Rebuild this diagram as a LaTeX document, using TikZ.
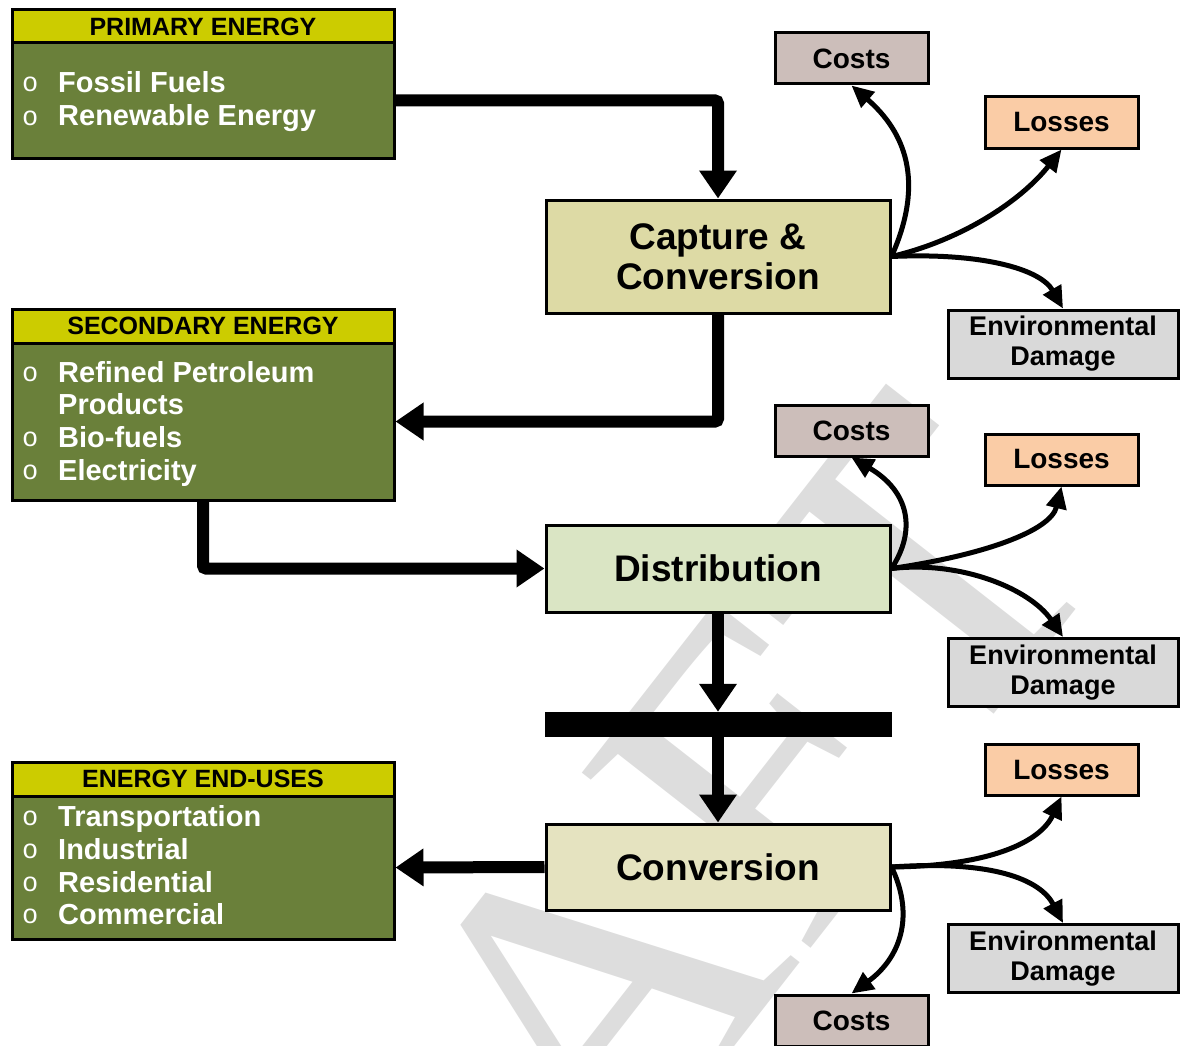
\documentclass[tikz,border=0pt]{standalone}
\usepackage{fontspec}
\setmainfont{Liberation Sans}
\newfontfamily\monofnt{Liberation Mono}
\newfontfamily\seriffnt{Liberation Serif}
\usetikzlibrary{arrows.meta}
\definecolor{hdrY}{RGB}{204,204,0}
\definecolor{oliveB}{RGB}{106,128,58}
\definecolor{capF}{RGB}{221,218,165}
\definecolor{distF}{RGB}{218,229,196}
\definecolor{convF}{RGB}{229,227,192}
\definecolor{costF}{RGB}{204,190,186}
\definecolor{lossF}{RGB}{250,204,166}
\definecolor{envF}{RGB}{217,217,217}
\definecolor{wmG}{RGB}{221,221,221}
\newcommand\mybul{\makebox[36pt][l]{\raisebox{1pt}{\monofnt\mdseries\fontsize{27}{27}\selectfont o}}}
\begin{document}
\begin{tikzpicture}[x=1pt,y=-1pt,
  hdr/.style={draw=black, line width=3pt, fill=hdrY, minimum width=382pt, inner sep=0pt,
    font=\fontsize{25}{30}\selectfont\bfseries},
  bodybox/.style={draw=black, line width=3pt, fill=oliveB, minimum width=382pt, inner sep=0pt},
  item/.style={anchor=base west, inner sep=0pt, text=white, font=\fontsize{29}{33}\selectfont\bfseries},
  proc/.style={draw=black, line width=3pt, minimum width=344pt, inner sep=0pt, align=center,
    font=\fontsize{37}{40}\selectfont\bfseries},
  side/.style={draw=black, line width=3pt, minimum width=153pt, minimum height=51pt, inner sep=0pt,
    font=\fontsize{28}{30}\selectfont\bfseries},
  envbox/.style={draw=black, line width=3pt, fill=envF, minimum width=230pt, minimum height=68pt,
    inner sep=0pt, align=center, font=\fontsize{27}{30}\selectfont\bfseries},
  flow/.style={line width=12pt, -{Triangle[length=28pt,width=36pt]}, rounded corners=3pt},
  branch/.style={line width=5pt, -{Triangle[length=22pt,width=20pt]}},
  wm/.style={text=wmG, inner sep=0pt, font=\seriffnt\fontsize{440}{440}\selectfont}
]
\useasboundingbox (0,0) rectangle (1180,1046);
\begin{scope}
\clip (0,0) rectangle (1180,1046);
\node[wm, rotate=52] (draft) at (560,1035) {DRAFT};
\end{scope}

% left boxes
\node[bodybox, minimum height=115pt] (primbody) at (203,100.5) {};
\node[hdr, minimum height=33pt] (primhdr) at (203,26.5) {PRIMARY ENERGY};
\node[item] (p1) at (22,93) {\mybul Fossil Fuels};
\node[item] (p2) at (22,126) {\mybul Renewable Energy};

\node[bodybox, minimum height=157pt] (secbody) at (203,421.5) {};
\node[hdr, minimum height=34pt] (sechdr) at (203,326) {SECONDARY ENERGY};
\node[item] (s1) at (22,382) {\mybul Refined Petroleum};
\node[item] (s1b) at (58,414) {Products};
\node[item] (s2) at (22,447) {\mybul Bio-fuels};
\node[item] (s3) at (22,480) {\mybul Electricity};

\node[bodybox, minimum height=143pt] (endbody) at (203,867.5) {};
\node[hdr, minimum height=34pt] (endhdr) at (203,779) {ENERGY END-USES};
\node[item] (e1) at (22,826) {\mybul Transportation};
\node[item] (e2) at (22,859) {\mybul Industrial};
\node[item] (e3) at (22,892) {\mybul Residential};
\node[item] (e4) at (22,924) {\mybul Commercial};

% process boxes
\node[proc, fill=capF, minimum height=113pt] (cap) at (718,256.5) {Capture \&\\Conversion};
\node[proc, fill=distF, minimum height=87pt] (dist) at (718,568.5) {Distribution};
\node[draw=black, fill=black, minimum width=346pt, minimum height=24pt, inner sep=0pt] (bar) at (718,724) {};
\node[proc, fill=convF, minimum height=86pt] (conv) at (718,867) {Conversion};

% side boxes
\node[side, fill=costF] (costs1) at (851.5,58.5) {Costs};
\node[side, fill=lossF] (losses1) at (1061.5,122.5) {Losses};
\node[envbox] (env1) at (1063,344) {Environmental\\Damage};
\node[side, fill=costF] (costs2) at (851.5,430.5) {Costs};
\node[side, fill=lossF] (losses2) at (1061.5,459.5) {Losses};
\node[envbox] (env2) at (1063,672.5) {Environmental\\Damage};
\node[side, fill=lossF] (losses3) at (1061.5,769.5) {Losses};
\node[envbox] (env3) at (1063,958.5) {Environmental\\Damage};
\node[side, fill=costF] (costs3) at (851.5,1020.5) {Costs};

% main flow
\draw[flow] (primbody.east) -| (cap.north);
\draw[flow] (cap.south) |- (secbody.east);
\draw[flow] (secbody.south) |- (dist.west);
\draw[flow] (dist.south) -- (bar.north);
\draw[flow] (bar.south) -- (conv.north);
\draw[flow] (conv.west) -- (endbody.east);

% branches
\draw[branch] (cap.east) .. controls +(34,-76) and +(53,46) .. (costs1.south);
\draw[branch] (cap.east) .. controls +(69,-16) and +(-41,52) .. (losses1.south);
\draw[branch] (cap.east) .. controls +(89,-4) and +(-23,-40) .. (env1.north);
\draw[branch] (dist.east) .. controls +(25,-38) and +(58,34) .. (costs2.south);
\draw[branch] (dist.east) .. controls +(90,-13) and +(-11,45) .. (losses2.south);
\draw[branch] (dist.east) .. controls +(70,-8) and +(-33,-48) .. (env2.north);
\draw[branch] (conv.east) .. controls +(100,-1) and +(-21,45) .. (losses3.south);
\draw[branch] (conv.east) .. controls +(100,-7) and +(-23,-44) .. (env3.north);
\draw[branch] (conv.east) .. controls +(24,50) and +(48,-35) .. (costs3.north);
\end{tikzpicture}
\end{document}
